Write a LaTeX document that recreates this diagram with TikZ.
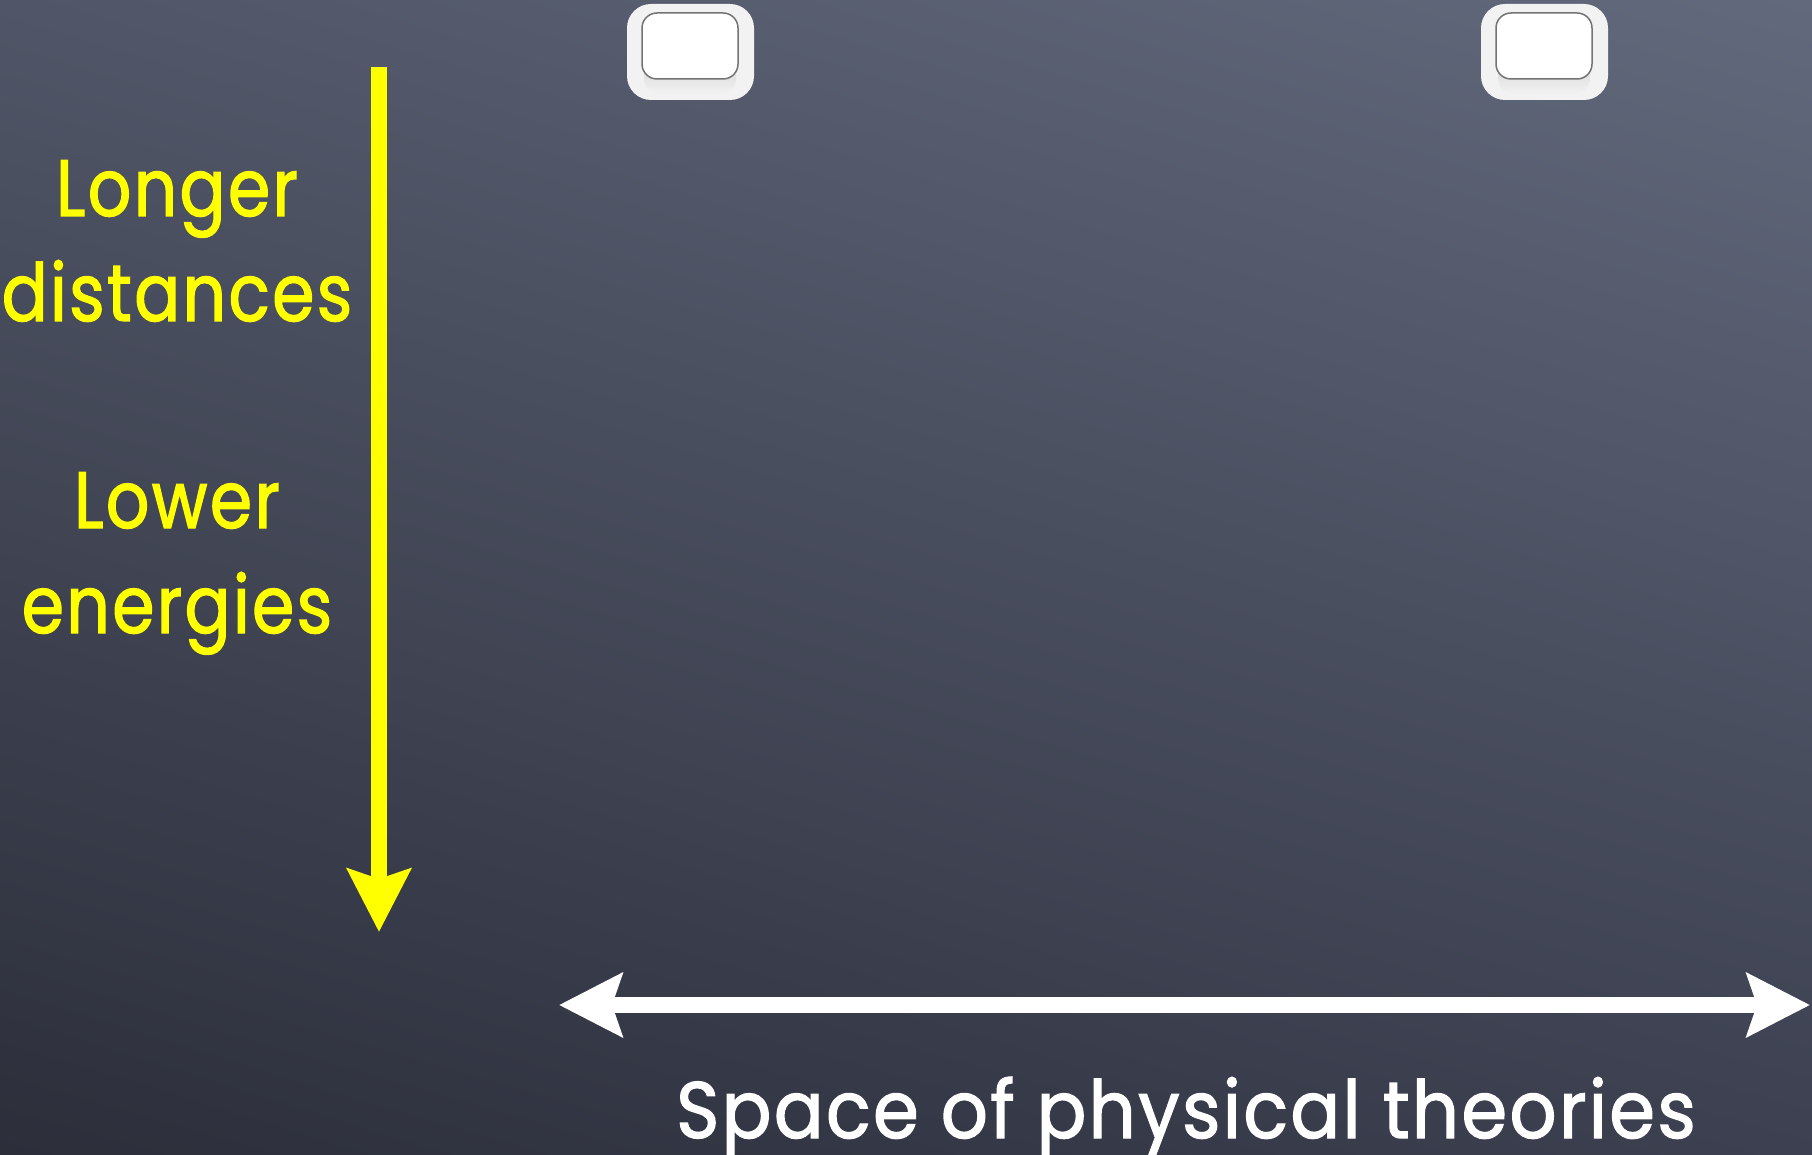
\documentclass[tikz,border=0pt]{standalone}
\usepackage{fontspec}
\setmainfont{Poppins}
\newfontfamily\chalkside[FakeStretch=0.85,FakeBold=1.6,LetterSpace=3]{Poppins}
\newfontfamily\chalkbottom[FakeStretch=0.92,FakeBold=1.6,LetterSpace=3]{Poppins}
\usetikzlibrary{arrows.meta,shadings}

\definecolor{boardUL}{RGB}{80,86,103}
\definecolor{boardUR}{RGB}{98,105,124}
\definecolor{boardLL}{RGB}{44,46,58}
\definecolor{boardLR}{RGB}{60,64,80}
\definecolor{chalkyellow}{RGB}{255,255,0}

\tikzset{
  chalkdown/.style={line width=16pt, chalkyellow, -{Stealth[length=63pt,width=63pt,inset=10pt]}},
  chalkboth/.style={line width=16pt, white, {Stealth[length=63pt,width=63pt,inset=10pt]}-{Stealth[length=63pt,width=63pt,inset=10pt]}},
  yellowtext/.style={text=chalkyellow, font=\chalkside\fontsize{80}{96}\selectfont, inner sep=0pt, anchor=base},
  whitetext/.style={text=white, font=\chalkbottom\fontsize{80}{96}\selectfont, inner sep=0pt, anchor=base},
}

\begin{document}
\begin{tikzpicture}[x=1pt,y=-1pt]
  % tafel
  \shade[upper left=boardUL, upper right=boardUR, lower left=boardLL, lower right=boardLR]
    (0,0) rectangle (1812,1155);
  \useasboundingbox (0,0) rectangle (1812,1155);

  % klammern oben
  \foreach \cx in {690,1544} {
    \fill[white!90!gray, rounded corners=24pt] (\cx-63,4) rectangle (\cx+64,100);
    \shade[top color=gray!60, bottom color=white!90!gray, rounded corners=16pt]
      (\cx-46,22) rectangle (\cx+46,94);
    \filldraw[fill=white, draw=black!55, line width=1.5pt, rounded corners=15pt]
      (\cx-48,13) rectangle (\cx+48,79);
  }

  % senkrechter pfeil
  \coordinate (ytop) at (379,67);
  \coordinate (ybot) at (379,932);
  \draw[chalkdown] (ytop) -- (ybot);

  \node[yellowtext] (longer) at (177,216) {Longer};
  \node[yellowtext] (dist) at (177,321) {distances};
  \node[yellowtext] (lower) at (177,528) {Lower};
  \node[yellowtext] (energ) at (177,633) {energies};

  % waagerechter pfeil
  \coordinate (xleft) at (559,1005);
  \coordinate (xright) at (1810,1005);
  \draw[chalkboth] (xleft) -- (xright);

  \node[whitetext] (space) at (1186,1138) {Space of physical theories};
\end{tikzpicture}
\end{document}
